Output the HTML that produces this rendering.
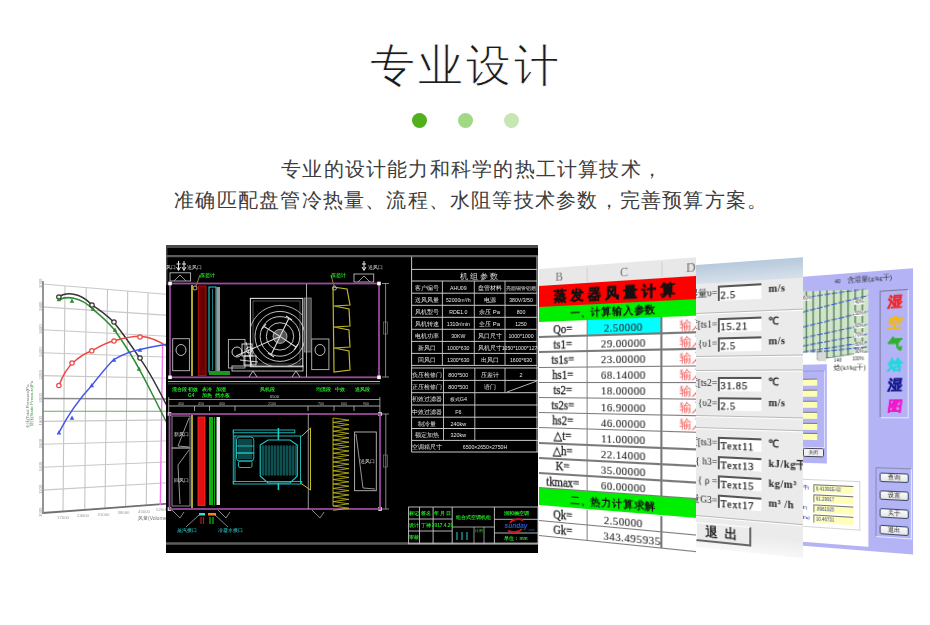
<!DOCTYPE html>
<html><head><meta charset="utf-8">
<style>
html,body{margin:0;padding:0;background:#fff;}
body{width:930px;height:625px;position:relative;overflow:hidden;font-family:"Liberation Sans",sans-serif;}
.abs{position:absolute;}
#title{position:absolute;left:370.1px;top:43px;white-space:nowrap;font-size:45px;line-height:45px;color:#1a1a1a;letter-spacing:2.9px;-webkit-text-stroke:0.9px #fff;}
.dot{position:absolute;top:113px;width:15px;height:15px;border-radius:50%;}
.sub{position:absolute;white-space:nowrap;font-size:20px;line-height:20px;color:#3c3c3c;letter-spacing:1.22px;}
.panel{position:absolute;left:0;top:0;transform-origin:0 0;overflow:visible;}
</style></head><body>
<div id="title">专业设计</div>
<div class="dot" style="left:411.5px;background:#51b11c"></div>
<div class="dot" style="left:457.5px;background:#a2d784"></div>
<div class="dot" style="left:503.5px;background:#c6e7b3"></div>
<div class="sub" style="left:281.1px;top:159px">专业的设计能力和科学的热工计算技术，</div>
<div class="sub" style="left:174.2px;top:189.9px">准确匹配盘管冷热量、流程、水阻等技术参数，完善预算方案。</div>

<div id="collage" class="abs" style="left:0;top:0;width:930px;height:625px;filter:blur(0.35px)">
<svg class="abs" style="left:0;top:0" width="930" height="625" viewBox="0 0 930 625">
<line x1="65" y1="285.9" x2="63" y2="511.5" stroke="#c4c4c4" stroke-width="1.1"/>
<line x1="86.2" y1="287.6" x2="84.8" y2="509.9" stroke="#c4c4c4" stroke-width="1.1"/>
<line x1="107.5" y1="289.4" x2="105" y2="508.4" stroke="#c4c4c4" stroke-width="1.1"/>
<line x1="127.7" y1="291.1" x2="125.6" y2="506.8" stroke="#c4c4c4" stroke-width="1.1"/>
<line x1="148" y1="292.8" x2="146.3" y2="505.3" stroke="#c4c4c4" stroke-width="1.1"/>
<line x1="42.5" y1="284.0" x2="172" y2="294.7" stroke="#c8c8c8" stroke-width="1.1"/>
<line x1="42.5" y1="306.9" x2="172" y2="315.6" stroke="#c8c8c8" stroke-width="1.1"/>
<line x1="42.5" y1="329.8" x2="172" y2="336.5" stroke="#c8c8c8" stroke-width="1.1"/>
<line x1="42.5" y1="352.7" x2="172" y2="357.3" stroke="#c8c8c8" stroke-width="1.1"/>
<line x1="42.5" y1="375.6" x2="172" y2="378.2" stroke="#c8c8c8" stroke-width="1.1"/>
<line x1="42.5" y1="398.5" x2="172" y2="399.1" stroke="#8a8a8a" stroke-width="1.5"/>
<line x1="42.5" y1="421.4" x2="172" y2="419.9" stroke="#c8c8c8" stroke-width="1.1"/>
<line x1="42.5" y1="444.3" x2="172" y2="440.8" stroke="#c8c8c8" stroke-width="1.1"/>
<line x1="42.5" y1="467.2" x2="172" y2="461.7" stroke="#c8c8c8" stroke-width="1.1"/>
<line x1="42.5" y1="490.1" x2="172" y2="482.5" stroke="#c8c8c8" stroke-width="1.1"/>
<line x1="42.5" y1="513.0" x2="172" y2="503.4" stroke="#707070" stroke-width="1.8"/>
<line x1="42.5" y1="411.3" x2="172" y2="411.3" stroke="#6aaa6a" stroke-width="1.1"/>
<line x1="43" y1="281" x2="43" y2="514" stroke="#8a8a8a" stroke-width="1.8"/>
<line x1="162.6" y1="345" x2="160.3" y2="505" stroke="#f070f0" stroke-width="1.3"/>
<path d="M58.9,297 C66,292 80,292 91.8,304.8 C100,310 108,316 114.2,322.7 C125,336 133,348 140,358.6 C150,372 158,388 168,408" fill="none" stroke="#333" stroke-width="1.5"/>
<path d="M58.9,300 C66,296 80,296 93,309.3 C100,315 108,322 114.2,329.5 C125,345 133,357 138.9,368.7 C148,385 155,400 168,425" fill="none" stroke="#2e8b2e" stroke-width="1.5"/>
<path d="M58.9,385.5 C63,375 67,368 72.7,363 C80,356 86,353 91.8,350.8 C100,346 108,342 114.2,340.7 C124,338 132,336 140,336.2 C150,337 158,340 168,347" fill="none" stroke="#ee4444" stroke-width="1.5"/>
<path d="M58.9,432.6 C68,415 80,398 91.8,385.5 C100,375 107,366 114.2,359.3 C124,354 132,351 140,349.6 C150,347 158,346 168,344" fill="none" stroke="#4455ee" stroke-width="1.5"/>
<circle cx="58.9" cy="297" r="2.2" fill="#fff" stroke="#333" stroke-width="1.2"/>
<path d="M56.6,301.3 L58.9,297.1 L61.2,301.3 Z" fill="#2e8b2e"/>
<path d="M69.7,302.8 L72.0,298.6 L74.3,302.8 Z" fill="#2e8b2e"/>
<circle cx="92" cy="305" r="2.2" fill="#fff" stroke="#333" stroke-width="1.2"/>
<path d="M90.7,310.8 L93.0,306.6 L95.3,310.8 Z" fill="#2e8b2e"/>
<circle cx="114" cy="322" r="2.2" fill="#fff" stroke="#333" stroke-width="1.2"/>
<path d="M112.7,331.8 L115.0,327.6 L117.3,331.8 Z" fill="#2e8b2e"/>
<circle cx="140" cy="358" r="2.2" fill="#fff" stroke="#333" stroke-width="1.2"/>
<path d="M136.7,370.8 L139.0,366.6 L141.3,370.8 Z" fill="#2e8b2e"/>
<circle cx="58.9" cy="385.5" r="2.2" fill="#fff" stroke="#ee4444" stroke-width="1.2"/>
<circle cx="72" cy="363" r="2.2" fill="#fff" stroke="#ee4444" stroke-width="1.2"/>
<circle cx="91.8" cy="350.8" r="2.2" fill="#fff" stroke="#ee4444" stroke-width="1.2"/>
<circle cx="114" cy="341" r="2.2" fill="#fff" stroke="#ee4444" stroke-width="1.2"/>
<circle cx="140" cy="337" r="2.2" fill="#fff" stroke="#ee4444" stroke-width="1.2"/>
<path d="M56.6,434.4 L58.9,430.2 L61.2,434.4 Z" fill="#4455ee"/>
<path d="M69.7,419.8 L72.0,415.6 L74.3,419.8 Z" fill="#4455ee"/>
<path d="M89.5,387.3 L91.8,383.1 L94.1,387.3 Z" fill="#4455ee"/>
<path d="M111.7,361.8 L114.0,357.6 L116.3,361.8 Z" fill="#4455ee"/>
<path d="M137.7,351.8 L140.0,347.6 L142.3,351.8 Z" fill="#4455ee"/>
<text transform="translate(41.8,288.0) rotate(-90)" font-size="4.2" fill="#999" font-family="Liberation Sans, sans-serif">3000</text>
<text transform="translate(41.8,310.9) rotate(-90)" font-size="4.2" fill="#999" font-family="Liberation Sans, sans-serif">2800</text>
<text transform="translate(41.8,333.8) rotate(-90)" font-size="4.2" fill="#999" font-family="Liberation Sans, sans-serif">2600</text>
<text transform="translate(41.8,356.7) rotate(-90)" font-size="4.2" fill="#999" font-family="Liberation Sans, sans-serif">2400</text>
<text transform="translate(41.8,379.6) rotate(-90)" font-size="4.2" fill="#999" font-family="Liberation Sans, sans-serif">2200</text>
<text transform="translate(41.8,402.5) rotate(-90)" font-size="4.2" fill="#999" font-family="Liberation Sans, sans-serif">2000</text>
<text transform="translate(41.8,425.4) rotate(-90)" font-size="4.2" fill="#999" font-family="Liberation Sans, sans-serif">1800</text>
<text transform="translate(41.8,448.3) rotate(-90)" font-size="4.2" fill="#999" font-family="Liberation Sans, sans-serif">1600</text>
<text transform="translate(41.8,471.2) rotate(-90)" font-size="4.2" fill="#999" font-family="Liberation Sans, sans-serif">1400</text>
<text transform="translate(41.8,494.1) rotate(-90)" font-size="4.2" fill="#999" font-family="Liberation Sans, sans-serif">1200</text>
<text transform="translate(41.8,517.0) rotate(-90)" font-size="4.2" fill="#999" font-family="Liberation Sans, sans-serif">1000</text>
<text transform="translate(28.5,428) rotate(-90)" font-size="4.3" fill="#777" font-family="Liberation Sans, sans-serif">全压(Total Pressure)Pa</text>
<text transform="translate(32.5,426) rotate(-90)" font-size="4.3" fill="#4a9a4a" font-family="Liberation Sans, sans-serif">静压(Static Pressure)Pa</text>
<text x="63" y="518.5" font-size="4.3" fill="#999" text-anchor="middle" font-family="Liberation Sans, sans-serif">17000</text>
<text x="83" y="517.0" font-size="4.3" fill="#999" text-anchor="middle" font-family="Liberation Sans, sans-serif">24000</text>
<text x="103.5" y="515.5" font-size="4.3" fill="#999" text-anchor="middle" font-family="Liberation Sans, sans-serif">31000</text>
<text x="123.5" y="514.0" font-size="4.3" fill="#999" text-anchor="middle" font-family="Liberation Sans, sans-serif">38000</text>
<text x="144" y="512.5" font-size="4.3" fill="#999" text-anchor="middle" font-family="Liberation Sans, sans-serif">45000</text>
<text x="162" y="511.2" font-size="4.3" fill="#999" text-anchor="middle" font-family="Liberation Sans, sans-serif">52000</text>
<text x="138" y="520" font-size="5" fill="#777" font-family="Liberation Sans, sans-serif">风量(Volume)m³/h</text>
<rect x="166" y="245" width="372" height="308" fill="#000"/>
<rect x="166" y="245" width="372" height="3" fill="#4a4a4a"/>
<line x1="166" y1="256.1" x2="538" y2="256.1" stroke="#5c5c5c" stroke-width="2.2"/>
<line x1="166" y1="543.5" x2="538" y2="543.5" stroke="#5e5e5e" stroke-width="2.4"/>
<line x1="166.8" y1="248" x2="166.8" y2="285" stroke="#666" stroke-width="1"/>
<svg x="166" y="255" width="20" height="20" overflow="hidden"><text x="-5.5" y="13.5" font-size="4.6" fill="#ddd" font-family="Liberation Sans, sans-serif">回风口</text></svg>
<text x="186.5" y="268.5" font-size="4.6" fill="#ddd" text-anchor="start" font-family="Liberation Sans, sans-serif" >送风口</text>
<text x="367.5" y="268.5" font-size="4.6" fill="#ddd" text-anchor="start" font-family="Liberation Sans, sans-serif" >送风口</text>
<circle cx="195" cy="288" r="2" fill="none" stroke="#ddd" stroke-width="0.8"/><circle cx="334.5" cy="288" r="2" fill="none" stroke="#ddd" stroke-width="0.8"/>
<path d="M178.5,261 L178.5,270 M176.5,267 L178.5,270.5 L180.5,267 M176.5,264 L180.5,264 M184,261 L184,270 M182,267 L184,270.5 L186,267 M182,264 L186,264 M364,261 L364,270 M362,267 L364,270.5 L366,267 M362,264 L366,264" stroke="#e8e8e8" stroke-width="1" fill="none"/>
<rect x="170" y="272.8" width="20.6" height="8.2" fill="none" stroke="#bbb" stroke-width="0.9"/>
<path d="M174,281 L180,275 L186,281" fill="none" stroke="#bbb" stroke-width="0.8"/>
<rect x="354" y="274" width="19.7" height="8" fill="none" stroke="#bbb" stroke-width="0.9"/>
<path d="M358,282 L364,276 L370,282" fill="none" stroke="#bbb" stroke-width="0.8"/>
<text x="200" y="277" font-size="4.6" fill="#22dd22" text-anchor="start" font-family="Liberation Sans, sans-serif" font-weight="bold">压差计</text>
<text x="331" y="277" font-size="4.6" fill="#22dd22" text-anchor="start" font-family="Liberation Sans, sans-serif" font-weight="bold">压差计</text>
<path d="M200,275 L196,286" stroke="#cc3" stroke-width="0.7" fill="none"/>
<path d="M331,275 L334,286" stroke="#cc3" stroke-width="0.7" fill="none"/>
<rect x="170" y="283.5" width="209" height="93.8" fill="none" stroke="#9a4a9a" stroke-width="1.8"/>
<rect x="168.2" y="281.7" width="3.6" height="3.6" fill="#fff"/>
<rect x="377.2" y="281.7" width="3.6" height="3.6" fill="#fff"/>
<rect x="168.2" y="375.5" width="3.6" height="3.6" fill="#fff"/>
<rect x="377.2" y="375.5" width="3.6" height="3.6" fill="#fff"/>
<rect x="167.7" y="412.2" width="3.6" height="3.6" fill="#fff"/>
<rect x="378.2" y="412.2" width="3.6" height="3.6" fill="#fff"/>
<rect x="167.7" y="507.2" width="3.6" height="3.6" fill="#fff"/>
<rect x="378.2" y="507.2" width="3.6" height="3.6" fill="#fff"/>
<line x1="192" y1="285" x2="192" y2="376" stroke="#d8d030" stroke-width="1.6"/>
<rect x="198.3" y="286" width="7.7" height="89.6" fill="#6a0000" stroke="#c01010" stroke-width="0.9"/>
<rect x="209" y="287" width="7" height="85" fill="none" stroke="#22c8c8" stroke-width="1.1"/>
<line x1="212.5" y1="289" x2="212.5" y2="370" stroke="#22a0a0" stroke-width="0.8"/>
<rect x="216.5" y="287" width="3.5" height="85" fill="#9a9a9a"/>
<rect x="209" y="371" width="21" height="4" fill="#1a9a1a"/>
<rect x="172.7" y="338.7" width="16.7" height="32" fill="none" stroke="#bbb" stroke-width="0.9"/>
<ellipse cx="181" cy="350" rx="5" ry="5.5" fill="none" stroke="#ccc" stroke-width="0.9"/>
<rect x="311.7" y="339" width="17.2" height="30.6" fill="none" stroke="#bbb" stroke-width="0.9"/>
<ellipse cx="320" cy="350" rx="5" ry="5.5" fill="none" stroke="#ccc" stroke-width="0.9"/>
<rect x="228.4" y="339.4" width="16.6" height="28.6" fill="none" stroke="#bbb" stroke-width="0.9"/>
<rect x="250.4" y="298.4" width="52.4" height="68.3" fill="none" stroke="#ddd" stroke-width="1.1"/>
<rect x="253" y="301" width="47" height="63" fill="none" stroke="#888" stroke-width="0.6"/>
<defs><clipPath id="fh"><rect x="251" y="299" width="51" height="67"/></clipPath></defs>
<circle cx="280" cy="336.4" r="31" fill="none" stroke="#bbb" stroke-width="0.9" clip-path="url(#fh)"/>
<circle cx="280" cy="336.4" r="25" fill="none" stroke="#d8d8d8" stroke-width="0.9"/>
<circle cx="280" cy="336.4" r="19.8" fill="none" stroke="#d8d8d8" stroke-width="0.9"/>
<circle cx="280" cy="336.4" r="13.7" fill="none" stroke="#d8d8d8" stroke-width="0.9"/>
<circle cx="280" cy="336.4" r="7" fill="#555" stroke="#ccc" stroke-width="0.8"/>
<path d="M280,336.4 L289,318 M280,336.4 L264,326.5 M280,336.4 L271,355 M280,336.4 L296,347 M280,336.4 L236,356" stroke="#ddd" stroke-width="1.1"/>
<path d="M286,316 L292,320 M262,329 L266,324 M268,353 L274,357 M294,350 L298,344" stroke="#ddd" stroke-width="1.2"/>
<g fill="none" stroke="#e8e8e8" stroke-width="0.9"><circle cx="237" cy="352" r="5"/><rect x="242" y="344" width="10" height="12"/><rect x="244" y="356" width="12" height="9"/><circle cx="249" cy="350" r="3"/><path d="M240,360 L258,362 M246,342 L252,366"/></g>
<rect x="232" y="366" width="71" height="5" fill="none" stroke="#ccc" stroke-width="0.9"/>
<path d="M249,377 L253,371 L257,377 M292,377 L296,371 L300,377" stroke="#ccc" stroke-width="0.9" fill="none"/>
<rect x="304.3" y="298" width="6.9" height="54" fill="#444" stroke="#999" stroke-width="0.7"/>
<line x1="306.5" y1="284" x2="306.5" y2="377" stroke="#bbb" stroke-width="0.9"/>
<path d="M333,287 L347,289 L350,305 L334,306 L349,309 L350,326 L334,327 L349,330 L350,347 L334,348 L349,351 L350,370 L334,372 L333,287" fill="none" stroke="#c0b828" stroke-width="1.2"/>
<line x1="385.6" y1="283" x2="385.6" y2="377" stroke="#aaa" stroke-width="0.8"/>
<line x1="382" y1="283.5" x2="389" y2="283.5" stroke="#aaa" stroke-width="0.8"/><line x1="382" y1="377" x2="389" y2="377" stroke="#aaa" stroke-width="0.8"/>
<rect x="383.5" y="322" width="4" height="12" fill="none" stroke="#888" stroke-width="0.6"/>
<line x1="168" y1="381.5" x2="380" y2="381.5" stroke="#c8c8c8" stroke-width="0.9"/>
<line x1="168" y1="383.8" x2="380" y2="383.8" stroke="#666" stroke-width="0.7"/>
<text x="172" y="390.5" font-size="4.7" fill="#22dd22" text-anchor="start" font-family="Liberation Sans, sans-serif" font-weight="bold">混合段</text>
<text x="188" y="390.5" font-size="4.7" fill="#22dd22" text-anchor="start" font-family="Liberation Sans, sans-serif" font-weight="bold">初效</text>
<text x="202" y="390.5" font-size="4.7" fill="#22dd22" text-anchor="start" font-family="Liberation Sans, sans-serif" font-weight="bold">表冷</text>
<text x="216" y="390.5" font-size="4.7" fill="#22dd22" text-anchor="start" font-family="Liberation Sans, sans-serif" font-weight="bold">加湿</text>
<text x="260" y="390.5" font-size="4.7" fill="#22dd22" text-anchor="start" font-family="Liberation Sans, sans-serif" font-weight="bold">风机段</text>
<text x="316" y="390.5" font-size="4.7" fill="#22dd22" text-anchor="start" font-family="Liberation Sans, sans-serif" font-weight="bold">均流段</text>
<text x="335" y="390.5" font-size="4.7" fill="#22dd22" text-anchor="start" font-family="Liberation Sans, sans-serif" font-weight="bold">中效</text>
<text x="355" y="390.5" font-size="4.7" fill="#22dd22" text-anchor="start" font-family="Liberation Sans, sans-serif" font-weight="bold">送风段</text>
<text x="188" y="397" font-size="4.7" fill="#22dd22" text-anchor="start" font-family="Liberation Sans, sans-serif" font-weight="bold">G4</text>
<text x="202" y="397" font-size="4.7" fill="#22dd22" text-anchor="start" font-family="Liberation Sans, sans-serif" font-weight="bold">加热</text>
<text x="215" y="397" font-size="4.7" fill="#22dd22" text-anchor="start" font-family="Liberation Sans, sans-serif" font-weight="bold">挡水板</text>
<text x="270" y="398" font-size="4" fill="#ccc" text-anchor="start" font-family="Liberation Sans, sans-serif" >6500</text>
<line x1="168.7" y1="399.5" x2="379.9" y2="399.5" stroke="#bbb" stroke-width="0.8"/>
<line x1="168.7" y1="397" x2="168.7" y2="413" stroke="#bbb" stroke-width="0.8"/>
<line x1="379.9" y1="397" x2="379.9" y2="413" stroke="#bbb" stroke-width="0.8"/>
<line x1="168.7" y1="406" x2="379.9" y2="406" stroke="#bbb" stroke-width="0.9"/>
<line x1="194.5" y1="406" x2="194.5" y2="411" stroke="#bbb" stroke-width="0.8"/>
<line x1="209.5" y1="406" x2="209.5" y2="411" stroke="#bbb" stroke-width="0.8"/>
<line x1="235" y1="406" x2="235" y2="411" stroke="#bbb" stroke-width="0.8"/>
<line x1="308" y1="406" x2="308" y2="411" stroke="#bbb" stroke-width="0.8"/>
<line x1="334" y1="406" x2="334" y2="411" stroke="#bbb" stroke-width="0.8"/>
<line x1="354" y1="406" x2="354" y2="411" stroke="#bbb" stroke-width="0.8"/>
<text x="181" y="405" font-size="3.6" fill="#bbb" text-anchor="middle" font-family="Liberation Sans, sans-serif" >400</text>
<text x="201" y="405" font-size="3.6" fill="#bbb" text-anchor="middle" font-family="Liberation Sans, sans-serif" >450</text>
<text x="222" y="405" font-size="3.6" fill="#bbb" text-anchor="middle" font-family="Liberation Sans, sans-serif" >400</text>
<text x="272" y="405" font-size="3.6" fill="#bbb" text-anchor="middle" font-family="Liberation Sans, sans-serif" >2100</text>
<text x="321" y="405" font-size="3.6" fill="#bbb" text-anchor="middle" font-family="Liberation Sans, sans-serif" >700</text>
<text x="344" y="405" font-size="3.6" fill="#bbb" text-anchor="middle" font-family="Liberation Sans, sans-serif" >600</text>
<text x="366" y="405" font-size="3.6" fill="#bbb" text-anchor="middle" font-family="Liberation Sans, sans-serif" >900</text>
<rect x="169.5" y="414" width="210.5" height="95" fill="none" stroke="#9a4a9a" stroke-width="1.8"/>
<rect x="172" y="416" width="18" height="32" fill="none" stroke="#aaa" stroke-width="0.8"/>
<rect x="172" y="448" width="18" height="58" fill="none" stroke="#aaa" stroke-width="0.8"/>
<path d="M189,418 L178,446 L189,447 M189,450 L178,465 L180,504" stroke="#bbb" stroke-width="0.8" fill="none"/>
<text x="174" y="436" font-size="4.5" fill="#ddd" text-anchor="start" font-family="Liberation Sans, sans-serif" >新风口</text>
<text x="174" y="482" font-size="4.5" fill="#ddd" text-anchor="start" font-family="Liberation Sans, sans-serif" >回风口</text>
<line x1="192" y1="415" x2="192" y2="508" stroke="#d8d030" stroke-width="1.6"/>
<rect x="198" y="417" width="7" height="88.6" fill="#e01010" stroke="#ff3030" stroke-width="0.8"/>
<rect x="209" y="417" width="4" height="88" fill="#10b010"/>
<line x1="214.5" y1="417" x2="214.5" y2="505" stroke="#10c010" stroke-width="0.9"/>
<rect x="216.5" y="417" width="3.5" height="88" fill="#e8e8e8"/>
<g fill="none" stroke="#22c8c8" stroke-width="0.9">
<rect x="233.3" y="430" width="61.5" height="2.8"/>
<line x1="233.3" y1="436" x2="301.8" y2="436"/>
<rect x="233.3" y="481.5" width="68.5" height="2.5"/>
<line x1="233.3" y1="430" x2="233.3" y2="484"/><line x1="235" y1="436" x2="235" y2="482"/>
<line x1="300.5" y1="436" x2="300.5" y2="484"/>
<rect x="236.5" y="437" width="17.3" height="24" rx="3"/>
<rect x="238.5" y="461" width="13.5" height="6.5" rx="1.5"/>
<line x1="236.5" y1="446" x2="253.8" y2="446"/><line x1="236.5" y1="453" x2="253.8" y2="453" stroke-width="1.4"/>
<path d="M260.2,445 L268,440 L290,440 L297.3,445 L297.3,476 L290,483 L268,483 L260.2,476 Z" stroke-width="1.1"/>
<line x1="278.4" y1="428" x2="278.4" y2="440" stroke-width="1.6"/><line x1="278.4" y1="483" x2="278.4" y2="490" stroke-width="1.6"/>
</g>
<line x1="263" y1="445" x2="263" y2="476" stroke="#22c8c8" stroke-width="0.55"/>
<line x1="266" y1="445" x2="266" y2="476" stroke="#22c8c8" stroke-width="0.55"/>
<line x1="269" y1="445" x2="269" y2="476" stroke="#22c8c8" stroke-width="0.55"/>
<line x1="272" y1="445" x2="272" y2="476" stroke="#22c8c8" stroke-width="0.55"/>
<line x1="275" y1="445" x2="275" y2="476" stroke="#22c8c8" stroke-width="0.55"/>
<line x1="278" y1="445" x2="278" y2="476" stroke="#22c8c8" stroke-width="0.55"/>
<line x1="281" y1="445" x2="281" y2="476" stroke="#22c8c8" stroke-width="0.55"/>
<line x1="284" y1="445" x2="284" y2="476" stroke="#22c8c8" stroke-width="0.55"/>
<line x1="287" y1="445" x2="287" y2="476" stroke="#22c8c8" stroke-width="0.55"/>
<line x1="290" y1="445" x2="290" y2="476" stroke="#22c8c8" stroke-width="0.55"/>
<line x1="293" y1="445" x2="293" y2="476" stroke="#22c8c8" stroke-width="0.55"/>
<line x1="296" y1="445" x2="296" y2="476" stroke="#22c8c8" stroke-width="0.55"/>
<rect x="238" y="439" width="14" height="20" fill="#22c8c8" opacity="0.35"/>
<rect x="261" y="446" width="35" height="29" fill="#22c8c8" opacity="0.18"/>
<path d="M301.8,436 L310.5,428 L310.5,490 L301.8,484" fill="none" stroke="#c8c020" stroke-width="1"/>
<line x1="308.3" y1="414" x2="308.3" y2="509" stroke="#bbb" stroke-width="0.8"/>
<path d="M333,418 L349,420.2 L333,422.4 L349,424.6 L333,426.8 L349,429.0 L333,431.2 L349,433.4 L333,435.6 L349,437.8 L333,440.0 L349,442.2 L333,444.4 L349,446.6 L333,448.8 L349,451.0 L333,453.2 L349,455.4 L333,457.6 L349,459.8 L333,462.0 L349,464.2 L333,466.4 L349,468.6 L333,470.8 L349,473.0 L333,475.2 L349,477.4 L333,479.6 L349,481.8 L333,484.0 L349,486.2 L333,488.4 L349,490.6 L333,492.8 L349,495.0 L333,497.2 L349,499.4 L333,501.6 L349,503.8 L333,506.0 L349,508.2 L333,510.4" fill="none" stroke="#c8c020" stroke-width="0.8"/>
<line x1="333" y1="418" x2="333" y2="506" stroke="#c8c020" stroke-width="0.9"/>
<rect x="354.6" y="432" width="21.7" height="58.7" fill="none" stroke="#bbb" stroke-width="0.9"/>
<path d="M356,434 L363,488 L375,489" fill="none" stroke="#bbb" stroke-width="0.8"/>
<text x="360" y="463" font-size="4.5" fill="#ddd" text-anchor="start" font-family="Liberation Sans, sans-serif" >送风口</text>
<line x1="385.8" y1="414" x2="385.8" y2="509" stroke="#aaa" stroke-width="0.8"/>
<line x1="382" y1="414" x2="389" y2="414" stroke="#aaa" stroke-width="0.8"/><line x1="382" y1="509" x2="389" y2="509" stroke="#aaa" stroke-width="0.8"/>
<rect x="383.5" y="455" width="4" height="12" fill="none" stroke="#888" stroke-width="0.6"/>
<path d="M172,510 L180,518 L184,512 M218,510 L226,518 L230,512 M312,510 L320,518 L324,512" fill="none" stroke="#aaa" stroke-width="0.8"/>
<rect x="199" y="513" width="6" height="2.5" fill="#30e0e0"/>
<rect x="208" y="513" width="8" height="2.5" fill="#ff8020"/>
<path d="M201,517 L201,524 M203.5,517 L203.5,524" stroke="#d01010" stroke-width="1.2"/>
<path d="M210,517 L210,524 M213,517 L213,524" stroke="#10c010" stroke-width="1.2"/>
<path d="M199,515 L186,527 M215,515 L228,527" stroke="#bbb" stroke-width="0.7"/>
<text x="177" y="532" font-size="5" fill="#30e0e0" text-anchor="start" font-family="Liberation Sans, sans-serif" >蒸汽接口</text>
<text x="218" y="532" font-size="5" fill="#30e0e0" text-anchor="start" font-family="Liberation Sans, sans-serif" >冷凝水接口</text>
<line x1="411.6" y1="256.6" x2="411.6" y2="452" stroke="#c8c8c8" stroke-width="1"/>
<line x1="537" y1="256.6" x2="537" y2="452" stroke="#c8c8c8" stroke-width="1"/>
<line x1="411.6" y1="269.4" x2="537" y2="269.4" stroke="#c8c8c8" stroke-width="1"/>
<line x1="411.6" y1="281" x2="537" y2="281" stroke="#c8c8c8" stroke-width="1"/>
<line x1="411.6" y1="293.2" x2="537" y2="293.2" stroke="#c8c8c8" stroke-width="1"/>
<line x1="411.6" y1="305.3" x2="537" y2="305.3" stroke="#c8c8c8" stroke-width="1"/>
<line x1="411.6" y1="317.3" x2="537" y2="317.3" stroke="#c8c8c8" stroke-width="1"/>
<line x1="411.6" y1="329.3" x2="537" y2="329.3" stroke="#c8c8c8" stroke-width="1"/>
<line x1="411.6" y1="341.4" x2="537" y2="341.4" stroke="#c8c8c8" stroke-width="1"/>
<line x1="411.6" y1="353.4" x2="537" y2="353.4" stroke="#c8c8c8" stroke-width="1"/>
<line x1="411.6" y1="365.4" x2="537" y2="365.4" stroke="#c8c8c8" stroke-width="1"/>
<line x1="442.4" y1="281" x2="442.4" y2="365.4" stroke="#c8c8c8" stroke-width="0.9"/>
<line x1="474.3" y1="281" x2="474.3" y2="365.4" stroke="#c8c8c8" stroke-width="0.9"/>
<line x1="505" y1="281" x2="505" y2="365.4" stroke="#c8c8c8" stroke-width="0.9"/>
<text x="479" y="278.5" font-size="7.5" fill="#ddd" text-anchor="middle" font-family="Liberation Sans, sans-serif" >机  组  参  数</text>
<text x="427" y="289.6" font-size="5.9" fill="#e8e8e8" text-anchor="middle" font-family="Liberation Sans, sans-serif" >客户编号</text>
<text x="458.3" y="289.6" font-size="5.2" fill="#e8e8e8" text-anchor="middle" font-family="Liberation Sans, sans-serif" >AHU09</text>
<text x="489.6" y="289.6" font-size="5.9" fill="#e8e8e8" text-anchor="middle" font-family="Liberation Sans, sans-serif" >盘管材料</text>
<text x="521" y="289.6" font-size="5.2" fill="#e8e8e8" text-anchor="middle" font-family="Liberation Sans, sans-serif" >亮面铜管铝翅</text>
<text x="427" y="301.8" font-size="5.9" fill="#e8e8e8" text-anchor="middle" font-family="Liberation Sans, sans-serif" >送风风量</text>
<text x="458.3" y="301.8" font-size="5.2" fill="#e8e8e8" text-anchor="middle" font-family="Liberation Sans, sans-serif" >52000m³/h</text>
<text x="489.6" y="301.8" font-size="5.9" fill="#e8e8e8" text-anchor="middle" font-family="Liberation Sans, sans-serif" >电源</text>
<text x="521" y="301.8" font-size="5.2" fill="#e8e8e8" text-anchor="middle" font-family="Liberation Sans, sans-serif" >380V/3/50</text>
<text x="427" y="313.90000000000003" font-size="5.9" fill="#e8e8e8" text-anchor="middle" font-family="Liberation Sans, sans-serif" >风机型号</text>
<text x="458.3" y="313.90000000000003" font-size="5.2" fill="#e8e8e8" text-anchor="middle" font-family="Liberation Sans, sans-serif" >RDE1.0</text>
<text x="489.6" y="313.90000000000003" font-size="5.9" fill="#e8e8e8" text-anchor="middle" font-family="Liberation Sans, sans-serif" >余压 Pa</text>
<text x="521" y="313.90000000000003" font-size="5.2" fill="#e8e8e8" text-anchor="middle" font-family="Liberation Sans, sans-serif" >800</text>
<text x="427" y="325.90000000000003" font-size="5.9" fill="#e8e8e8" text-anchor="middle" font-family="Liberation Sans, sans-serif" >风机转速</text>
<text x="458.3" y="325.90000000000003" font-size="5.2" fill="#e8e8e8" text-anchor="middle" font-family="Liberation Sans, sans-serif" >1310r/min</text>
<text x="489.6" y="325.90000000000003" font-size="5.9" fill="#e8e8e8" text-anchor="middle" font-family="Liberation Sans, sans-serif" >全压 Pa</text>
<text x="521" y="325.90000000000003" font-size="5.2" fill="#e8e8e8" text-anchor="middle" font-family="Liberation Sans, sans-serif" >1250</text>
<text x="427" y="337.90000000000003" font-size="5.9" fill="#e8e8e8" text-anchor="middle" font-family="Liberation Sans, sans-serif" >电机功率</text>
<text x="458.3" y="337.90000000000003" font-size="5.2" fill="#e8e8e8" text-anchor="middle" font-family="Liberation Sans, sans-serif" >30KW</text>
<text x="489.6" y="337.90000000000003" font-size="5.9" fill="#e8e8e8" text-anchor="middle" font-family="Liberation Sans, sans-serif" >风口尺寸</text>
<text x="521" y="337.90000000000003" font-size="5.2" fill="#e8e8e8" text-anchor="middle" font-family="Liberation Sans, sans-serif" >1000*1000</text>
<text x="427" y="350.0" font-size="5.9" fill="#e8e8e8" text-anchor="middle" font-family="Liberation Sans, sans-serif" >新风口</text>
<text x="458.3" y="350.0" font-size="5.2" fill="#e8e8e8" text-anchor="middle" font-family="Liberation Sans, sans-serif" >1000*630</text>
<text x="489.6" y="350.0" font-size="5.9" fill="#e8e8e8" text-anchor="middle" font-family="Liberation Sans, sans-serif" >风机尺寸</text>
<text x="521" y="350.0" font-size="5.2" fill="#e8e8e8" text-anchor="middle" font-family="Liberation Sans, sans-serif" >1050*1000*1270</text>
<text x="427" y="362.0" font-size="5.9" fill="#e8e8e8" text-anchor="middle" font-family="Liberation Sans, sans-serif" >回风口</text>
<text x="458.3" y="362.0" font-size="5.2" fill="#e8e8e8" text-anchor="middle" font-family="Liberation Sans, sans-serif" >1300*630</text>
<text x="489.6" y="362.0" font-size="5.9" fill="#e8e8e8" text-anchor="middle" font-family="Liberation Sans, sans-serif" >出风口</text>
<text x="521" y="362.0" font-size="5.2" fill="#e8e8e8" text-anchor="middle" font-family="Liberation Sans, sans-serif" >1600*630</text>
<line x1="411.6" y1="368" x2="538" y2="368" stroke="#c8c8c8" stroke-width="1"/>
<line x1="411.6" y1="380.4" x2="538" y2="380.4" stroke="#c8c8c8" stroke-width="1"/>
<line x1="411.6" y1="392.7" x2="538" y2="392.7" stroke="#c8c8c8" stroke-width="1"/>
<line x1="411.6" y1="405" x2="538" y2="405" stroke="#c8c8c8" stroke-width="1"/>
<line x1="411.6" y1="417.2" x2="538" y2="417.2" stroke="#c8c8c8" stroke-width="1"/>
<line x1="411.6" y1="428.5" x2="538" y2="428.5" stroke="#c8c8c8" stroke-width="1"/>
<line x1="411.6" y1="440.4" x2="538" y2="440.4" stroke="#c8c8c8" stroke-width="1"/>
<line x1="411.6" y1="452" x2="538" y2="452" stroke="#c8c8c8" stroke-width="1"/>
<line x1="443.5" y1="368" x2="443.5" y2="440.4" stroke="#c8c8c8" stroke-width="0.9"/>
<line x1="474.8" y1="368" x2="474.8" y2="440.4" stroke="#c8c8c8" stroke-width="0.9"/>
<line x1="505" y1="368" x2="505" y2="392.7" stroke="#c8c8c8" stroke-width="0.9"/>
<line x1="507" y1="392" x2="537" y2="381" stroke="#c8c8c8" stroke-width="0.9"/>
<text x="427" y="376.6" font-size="5.9" fill="#e8e8e8" text-anchor="middle" font-family="Liberation Sans, sans-serif" >负压检修门</text>
<text x="458.3" y="376.6" font-size="5.4" fill="#e8e8e8" text-anchor="middle" font-family="Liberation Sans, sans-serif" >800*500</text>
<text x="489.6" y="376.6" font-size="5.9" fill="#e8e8e8" text-anchor="middle" font-family="Liberation Sans, sans-serif" >压差计</text>
<text x="521" y="376.6" font-size="5.4" fill="#e8e8e8" text-anchor="middle" font-family="Liberation Sans, sans-serif" >2</text>
<text x="427" y="389.0" font-size="5.9" fill="#e8e8e8" text-anchor="middle" font-family="Liberation Sans, sans-serif" >正压检修门</text>
<text x="458.3" y="389.0" font-size="5.4" fill="#e8e8e8" text-anchor="middle" font-family="Liberation Sans, sans-serif" >800*500</text>
<text x="489.6" y="389.0" font-size="5.9" fill="#e8e8e8" text-anchor="middle" font-family="Liberation Sans, sans-serif" >语门</text>
<text x="427" y="401.3" font-size="5.9" fill="#e8e8e8" text-anchor="middle" font-family="Liberation Sans, sans-serif" >初效过滤器</text>
<text x="458.3" y="401.3" font-size="5.4" fill="#e8e8e8" text-anchor="middle" font-family="Liberation Sans, sans-serif" >板式G4</text>
<text x="427" y="413.6" font-size="5.9" fill="#e8e8e8" text-anchor="middle" font-family="Liberation Sans, sans-serif" >中效过滤器</text>
<text x="458.3" y="413.6" font-size="5.4" fill="#e8e8e8" text-anchor="middle" font-family="Liberation Sans, sans-serif" >F6</text>
<text x="427" y="425.8" font-size="5.9" fill="#e8e8e8" text-anchor="middle" font-family="Liberation Sans, sans-serif" >制冷量</text>
<text x="458.3" y="425.8" font-size="5.4" fill="#e8e8e8" text-anchor="middle" font-family="Liberation Sans, sans-serif" >240kw</text>
<text x="427" y="437.1" font-size="5.9" fill="#e8e8e8" text-anchor="middle" font-family="Liberation Sans, sans-serif" >额定加热</text>
<text x="458.3" y="437.1" font-size="5.4" fill="#e8e8e8" text-anchor="middle" font-family="Liberation Sans, sans-serif" >320kw</text>
<text x="427" y="448.8" font-size="5.9" fill="#e8e8e8" text-anchor="middle" font-family="Liberation Sans, sans-serif" >空调箱尺寸</text>
<text x="485" y="448.8" font-size="5.2" fill="#e8e8e8" text-anchor="middle" font-family="Liberation Sans, sans-serif" >6500×2650×2750H</text>
<rect x="408.6" y="507" width="129.4" height="36.8" fill="none" stroke="#c8c8c8" stroke-width="0.9"/>
<line x1="419.5" y1="507" x2="419.5" y2="543.8" stroke="#c8c8c8" stroke-width="0.9"/>
<line x1="433.1" y1="507" x2="433.1" y2="543.8" stroke="#c8c8c8" stroke-width="0.9"/>
<line x1="452.2" y1="507" x2="452.2" y2="543.8" stroke="#c8c8c8" stroke-width="0.9"/>
<line x1="494.4" y1="507" x2="494.4" y2="543.8" stroke="#c8c8c8" stroke-width="0.9"/>
<line x1="408.6" y1="519" x2="452.2" y2="519" stroke="#c8c8c8" stroke-width="0.9"/>
<line x1="408.6" y1="531" x2="452.2" y2="531" stroke="#c8c8c8" stroke-width="0.9"/>
<line x1="494.4" y1="519.3" x2="538" y2="519.3" stroke="#c8c8c8" stroke-width="0.9"/>
<line x1="494.4" y1="533" x2="538" y2="533" stroke="#c8c8c8" stroke-width="0.9"/>
<line x1="452.2" y1="527" x2="494.4" y2="527" stroke="#c8c8c8" stroke-width="0.8"/>
<line x1="474" y1="527" x2="474" y2="543.8" stroke="#c8c8c8" stroke-width="0.7"/>
<line x1="484" y1="527" x2="484" y2="543.8" stroke="#c8c8c8" stroke-width="0.7"/>
<text x="414" y="515" font-size="4.8" fill="#22dd22" text-anchor="middle" font-family="Liberation Sans, sans-serif" font-weight="bold">标记</text>
<text x="426" y="515" font-size="4.8" fill="#22dd22" text-anchor="middle" font-family="Liberation Sans, sans-serif" font-weight="bold">签名</text>
<text x="442.5" y="515" font-size="4.8" fill="#22dd22" text-anchor="middle" font-family="Liberation Sans, sans-serif" font-weight="bold">年 月 日</text>
<text x="414" y="527" font-size="4.8" fill="#22dd22" text-anchor="middle" font-family="Liberation Sans, sans-serif" font-weight="bold">设计</text>
<text x="426" y="527" font-size="4.8" fill="#22dd22" text-anchor="middle" font-family="Liberation Sans, sans-serif" font-weight="bold">丁神</text>
<text x="442.5" y="527" font-size="4.8" fill="#22dd22" text-anchor="middle" font-family="Liberation Sans, sans-serif" font-weight="bold">2017.4.20</text>
<text x="414" y="539" font-size="4.8" fill="#22dd22" text-anchor="middle" font-family="Liberation Sans, sans-serif" font-weight="bold">审核</text>
<text x="473" y="519" font-size="4.6" fill="#22dd22" text-anchor="middle" font-family="Liberation Sans, sans-serif" font-weight="bold">组合式空调机组</text>
<text x="479" y="532" font-size="4" fill="#22dd22" text-anchor="middle" font-family="Liberation Sans, sans-serif" >比例</text>
<path d="M457,532 L457,540 M462,532 L462,540 M467,532 L467,540" stroke="#30d0d0" stroke-width="1"/>
<text x="516" y="515" font-size="5" fill="#22dd22" text-anchor="middle" font-family="Liberation Sans, sans-serif" font-weight="bold">润和德空调</text>
<text x="516" y="527.8" font-size="6.5" fill="#2a5ad0" text-anchor="middle" font-style="italic" font-weight="bold" font-family="Liberation Sans, sans-serif">sunday</text>
<path d="M510,523 C512,519 520,518 523,520.5 M508,530.5 C512,533 519,532.5 522,529" stroke="#e01020" stroke-width="1.8" fill="none"/>
<text x="528" y="531" font-size="3" fill="#2a5ad0" font-family="Liberation Sans, sans-serif">.com</text>
<text x="516" y="540" font-size="4.6" fill="#22dd22" text-anchor="middle" font-family="Liberation Sans, sans-serif" font-weight="bold">单位：mm</text>
</svg>
<div class="panel" style="width:157px;height:272px;overflow:hidden;transform:matrix3d(0.57875321,-0.23120154,0,-0.00060523965,0,1,0,0,0,0,1,0,539,269,0,1);">
<div class="abs" style="left:0;top:0;width:230px;height:270px;background:#fff"></div>
<div class="abs" style="left:0;top:0;width:230px;height:16.5px;background:#e8e8e8"></div>
<div class="abs" style="left:18px;top:2px;font:12px/14px 'Liberation Serif',serif;color:#707070">B</div>
<div class="abs" style="left:85px;top:2px;font:12px/14px 'Liberation Serif',serif;color:#707070">C</div>
<div class="abs" style="left:148px;top:2px;font:12px/14px 'Liberation Serif',serif;color:#707070">D</div>
<div class="abs" style="left:51.4px;top:2px;width:1px;height:14px;background:#d0d0d0"></div>
<div class="abs" style="left:124.6px;top:2px;width:1px;height:14px;background:#d0d0d0"></div>
<div class="abs" style="left:0;top:16.5px;width:230px;height:21.3px;background:#ff0000"></div>
<div class="abs" style="left:0;top:37.8px;width:230px;height:15.2px;background:#00ee00"></div>
<div class="abs" style="left:9px;top:18.5px;width:140px;text-align:center;font:bold 14px 'Liberation Serif',serif;letter-spacing:4px;color:#111;line-height:20px;-webkit-text-stroke:0.4px #111">蒸发器风量计算</div>
<div class="abs" style="left:22px;top:38px;width:110px;text-align:center;font:bold 10px 'Liberation Serif',serif;color:#111;line-height:15px;letter-spacing:0.8px">一、计算输入参数</div>
<div class="abs" style="left:51.4px;top:53px;width:73.2px;height:15.1px;background:#00ffff"></div>
<div class="abs" style="left:0;top:67.30px;width:230px;height:1.6px;background:#7a7a7a"></div>
<div class="abs" style="left:0;top:53.50px;width:51.4px;text-align:center;font:11.5px 'Liberation Serif',serif;color:#1e1e1e;line-height:15px;-webkit-text-stroke:0.3px #1e1e1e">Qo=</div>
<div class="abs" style="left:51.4px;top:54.00px;width:73.2px;text-align:center;font:11.5px 'Liberation Serif',serif;color:#333;letter-spacing:0.4px;line-height:15px;font-size:11px;-webkit-text-stroke:0.15px #333">2.50000</div>
<div class="abs" style="left:142px;top:53.50px;font:11px 'Liberation Serif',serif;color:#f25050;line-height:15px;white-space:nowrap">输入</div>
<div class="abs" style="left:0;top:82.40px;width:230px;height:1.6px;background:#7a7a7a"></div>
<div class="abs" style="left:0;top:68.60px;width:51.4px;text-align:center;font:11.5px 'Liberation Serif',serif;color:#1e1e1e;line-height:15px;-webkit-text-stroke:0.3px #1e1e1e">ts1=</div>
<div class="abs" style="left:51.4px;top:69.10px;width:73.2px;text-align:center;font:11.5px 'Liberation Serif',serif;color:#333;letter-spacing:0.4px;line-height:15px;font-size:11px;-webkit-text-stroke:0.15px #333">29.00000</div>
<div class="abs" style="left:142px;top:68.60px;font:11px 'Liberation Serif',serif;color:#f25050;line-height:15px;white-space:nowrap">输入</div>
<div class="abs" style="left:0;top:97.50px;width:230px;height:1.6px;background:#7a7a7a"></div>
<div class="abs" style="left:0;top:83.70px;width:51.4px;text-align:center;font:11.5px 'Liberation Serif',serif;color:#1e1e1e;line-height:15px;-webkit-text-stroke:0.3px #1e1e1e">ts1s=</div>
<div class="abs" style="left:51.4px;top:84.20px;width:73.2px;text-align:center;font:11.5px 'Liberation Serif',serif;color:#333;letter-spacing:0.4px;line-height:15px;font-size:11px;-webkit-text-stroke:0.15px #333">23.00000</div>
<div class="abs" style="left:142px;top:83.70px;font:11px 'Liberation Serif',serif;color:#f25050;line-height:15px;white-space:nowrap">输入</div>
<div class="abs" style="left:0;top:112.60px;width:230px;height:1.6px;background:#7a7a7a"></div>
<div class="abs" style="left:0;top:98.80px;width:51.4px;text-align:center;font:11.5px 'Liberation Serif',serif;color:#1e1e1e;line-height:15px;-webkit-text-stroke:0.3px #1e1e1e">hs1=</div>
<div class="abs" style="left:51.4px;top:99.30px;width:73.2px;text-align:center;font:11.5px 'Liberation Serif',serif;color:#333;letter-spacing:0.4px;line-height:15px;font-size:11px;-webkit-text-stroke:0.15px #333">68.14000</div>
<div class="abs" style="left:142px;top:98.80px;font:11px 'Liberation Serif',serif;color:#f25050;line-height:15px;white-space:nowrap">输入</div>
<div class="abs" style="left:0;top:127.70px;width:230px;height:1.6px;background:#7a7a7a"></div>
<div class="abs" style="left:0;top:113.90px;width:51.4px;text-align:center;font:11.5px 'Liberation Serif',serif;color:#1e1e1e;line-height:15px;-webkit-text-stroke:0.3px #1e1e1e">ts2=</div>
<div class="abs" style="left:51.4px;top:114.40px;width:73.2px;text-align:center;font:11.5px 'Liberation Serif',serif;color:#333;letter-spacing:0.4px;line-height:15px;font-size:11px;-webkit-text-stroke:0.15px #333">18.00000</div>
<div class="abs" style="left:142px;top:113.90px;font:11px 'Liberation Serif',serif;color:#f25050;line-height:15px;white-space:nowrap">输入</div>
<div class="abs" style="left:0;top:142.80px;width:230px;height:1.6px;background:#7a7a7a"></div>
<div class="abs" style="left:0;top:129.00px;width:51.4px;text-align:center;font:11.5px 'Liberation Serif',serif;color:#1e1e1e;line-height:15px;-webkit-text-stroke:0.3px #1e1e1e">ts2s=</div>
<div class="abs" style="left:51.4px;top:129.50px;width:73.2px;text-align:center;font:11.5px 'Liberation Serif',serif;color:#333;letter-spacing:0.4px;line-height:15px;font-size:11px;-webkit-text-stroke:0.15px #333">16.90000</div>
<div class="abs" style="left:142px;top:129.00px;font:11px 'Liberation Serif',serif;color:#f25050;line-height:15px;white-space:nowrap">输入</div>
<div class="abs" style="left:0;top:157.90px;width:230px;height:1.6px;background:#7a7a7a"></div>
<div class="abs" style="left:0;top:144.10px;width:51.4px;text-align:center;font:11.5px 'Liberation Serif',serif;color:#1e1e1e;line-height:15px;-webkit-text-stroke:0.3px #1e1e1e">hs2=</div>
<div class="abs" style="left:51.4px;top:144.60px;width:73.2px;text-align:center;font:11.5px 'Liberation Serif',serif;color:#333;letter-spacing:0.4px;line-height:15px;font-size:11px;-webkit-text-stroke:0.15px #333">46.00000</div>
<div class="abs" style="left:142px;top:144.10px;font:11px 'Liberation Serif',serif;color:#f25050;line-height:15px;white-space:nowrap">输入</div>
<div class="abs" style="left:0;top:173.00px;width:230px;height:1.6px;background:#7a7a7a"></div>
<div class="abs" style="left:0;top:159.20px;width:51.4px;text-align:center;font:11.5px 'Liberation Serif',serif;color:#1e1e1e;line-height:15px;-webkit-text-stroke:0.3px #1e1e1e">△t=</div>
<div class="abs" style="left:51.4px;top:159.70px;width:73.2px;text-align:center;font:11.5px 'Liberation Serif',serif;color:#333;letter-spacing:0.4px;line-height:15px;font-size:11px;-webkit-text-stroke:0.15px #333">11.00000</div>
<div class="abs" style="left:0;top:188.10px;width:230px;height:1.6px;background:#7a7a7a"></div>
<div class="abs" style="left:0;top:174.30px;width:51.4px;text-align:center;font:11.5px 'Liberation Serif',serif;color:#1e1e1e;line-height:15px;-webkit-text-stroke:0.3px #1e1e1e">△h=</div>
<div class="abs" style="left:51.4px;top:174.80px;width:73.2px;text-align:center;font:11.5px 'Liberation Serif',serif;color:#333;letter-spacing:0.4px;line-height:15px;font-size:11px;-webkit-text-stroke:0.15px #333">22.14000</div>
<div class="abs" style="left:0;top:203.20px;width:230px;height:1.6px;background:#7a7a7a"></div>
<div class="abs" style="left:0;top:189.40px;width:51.4px;text-align:center;font:11.5px 'Liberation Serif',serif;color:#1e1e1e;line-height:15px;-webkit-text-stroke:0.3px #1e1e1e">K=</div>
<div class="abs" style="left:51.4px;top:189.90px;width:73.2px;text-align:center;font:11.5px 'Liberation Serif',serif;color:#333;letter-spacing:0.4px;line-height:15px;font-size:11px;-webkit-text-stroke:0.15px #333">35.00000</div>
<div class="abs" style="left:0;top:218.30px;width:230px;height:1.6px;background:#7a7a7a"></div>
<div class="abs" style="left:0;top:204.50px;width:51.4px;text-align:center;font:11.5px 'Liberation Serif',serif;color:#1e1e1e;line-height:15px;-webkit-text-stroke:0.3px #1e1e1e">tkmax=</div>
<div class="abs" style="left:51.4px;top:205.00px;width:73.2px;text-align:center;font:11.5px 'Liberation Serif',serif;color:#333;letter-spacing:0.4px;line-height:15px;font-size:11px;-webkit-text-stroke:0.15px #333">60.00000</div>
<div class="abs" style="left:0;top:219.10px;width:230px;height:17.4px;background:#00ee00"></div>
<div class="abs" style="left:22px;top:220.60px;width:110px;text-align:center;font:bold 10px 'Liberation Serif',serif;color:#111;line-height:15px;letter-spacing:0.8px">二、热力计算求解</div>
<div class="abs" style="left:0;top:250.80px;width:230px;height:1.6px;background:#7a7a7a"></div>
<div class="abs" style="left:0;top:237.00px;width:51.4px;text-align:center;font:11.5px 'Liberation Serif',serif;color:#1e1e1e;line-height:15px;-webkit-text-stroke:0.3px #1e1e1e">Qk=</div>
<div class="abs" style="left:51.4px;top:237.50px;width:73.2px;text-align:center;font:11.5px 'Liberation Serif',serif;color:#333;letter-spacing:0.4px;line-height:15px;font-size:11px;-webkit-text-stroke:0.15px #333">2.50000</div>
<div class="abs" style="left:0;top:265.90px;width:230px;height:1.6px;background:#7a7a7a"></div>
<div class="abs" style="left:0;top:252.10px;width:51.4px;text-align:center;font:11.5px 'Liberation Serif',serif;color:#1e1e1e;line-height:15px;-webkit-text-stroke:0.3px #1e1e1e">Gk=</div>
<div class="abs" style="left:51.4px;top:252.60px;width:73.2px;text-align:right;font:11.5px 'Liberation Serif',serif;color:#333;letter-spacing:0.4px;line-height:15px;font-size:11px;-webkit-text-stroke:0.15px #333">343.495935</div>
<div class="abs" style="left:50.8px;top:53px;width:1.5px;height:166.1px;background:#7a7a7a"></div>
<div class="abs" style="left:50.8px;top:236.5px;width:1.5px;height:30.2px;background:#7a7a7a"></div>
<div class="abs" style="left:124.0px;top:53px;width:1.5px;height:166.1px;background:#7a7a7a"></div>
<div class="abs" style="left:124.0px;top:236.5px;width:1.5px;height:30.2px;background:#7a7a7a"></div>
</div>
<div class="panel" style="width:109.5px;height:269px;overflow:hidden;transform:matrix3d(0.5019224,-0.22321537,0,-0.00054583846,0,1,0,0,0,0,1,0,803,276.8,0,1);background:#b3b3f5">
<div class="abs" style="left:0;top:76px;width:67px;height:189px;background:#fff"></div>
<svg class="abs" style="left:0;top:0" width="70" height="90" viewBox="0 0 70 90">
<defs><pattern id="hp" width="2.4" height="2.4" patternUnits="userSpaceOnUse"><rect width="2.4" height="2.4" fill="#c4dcbc"/><path d="M0,2.4 L2.4,0" stroke="#eaf5e6" stroke-width="0.8"/></pattern></defs>
<clipPath id="pc"><path d="M0,14.4 L67,16.7 L67,77 L15,83.2 L15,76 L0,76 Z"/></clipPath><path d="M0,14.4 L67,16.7 L67,77 L15,83.2 L15,76 L0,76 Z" fill="url(#hp)"/><g clip-path="url(#pc)">
<line x1="3.5" y1="15" x2="3.5" y2="83" stroke="#557f55" stroke-width="1.4"/>
<line x1="10.7" y1="15" x2="10.7" y2="83" stroke="#557f55" stroke-width="1.4"/>
<line x1="17.9" y1="15" x2="17.9" y2="83" stroke="#557f55" stroke-width="1.4"/>
<line x1="25.1" y1="15" x2="25.1" y2="83" stroke="#557f55" stroke-width="1.4"/>
<line x1="32.3" y1="15" x2="32.3" y2="83" stroke="#557f55" stroke-width="1.4"/>
<line x1="39.5" y1="15" x2="39.5" y2="83" stroke="#557f55" stroke-width="1.4"/>
<line x1="46.7" y1="15" x2="46.7" y2="83" stroke="#557f55" stroke-width="1.4"/>
<line x1="53.9" y1="15" x2="53.9" y2="83" stroke="#557f55" stroke-width="1.4"/>
<line x1="61.1" y1="15" x2="61.1" y2="83" stroke="#557f55" stroke-width="1.4"/>
<line x1="0" y1="35.2" x2="67" y2="22.8" stroke="#3f5fc8" stroke-width="1.1" stroke-dasharray="6 1.5"/>
<line x1="0" y1="50.2" x2="67" y2="38" stroke="#3f5fc8" stroke-width="1.1" stroke-dasharray="6 1.5"/>
<line x1="0" y1="61.2" x2="67" y2="50.4" stroke="#3f5fc8" stroke-width="1.1" stroke-dasharray="6 1.5"/>
<line x1="0" y1="69.2" x2="67" y2="59.9" stroke="#3f5fc8" stroke-width="1.1" stroke-dasharray="6 1.5"/>
<line x1="0" y1="75.2" x2="67" y2="67.5" stroke="#3f5fc8" stroke-width="1.1" stroke-dasharray="6 1.5"/>
<line x1="7" y1="76.2" x2="67" y2="72.3" stroke="#3f5fc8" stroke-width="1.1" stroke-dasharray="6 1.5"/>
<line x1="15" y1="83.2" x2="67" y2="77" stroke="#3f5fc8" stroke-width="1.1" stroke-dasharray="6 1.5"/>
<line x1="0" y1="21" x2="67" y2="16" stroke="#3f5fc8" stroke-width="1.1" stroke-dasharray="6 1.5"/>
</g><path d="M15,76 L15,83.2 L67,77" fill="none" stroke="#5d8a5d" stroke-width="0.6"/>
</svg>
<div class="abs" style="left:53px;top:26px;font:4.5px/5px 'Liberation Sans',sans-serif;background:#fff;color:#333;padding:0 0.5px">40%</div>
<div class="abs" style="left:53px;top:37px;font:4.5px/5px 'Liberation Sans',sans-serif;background:#fff;color:#333;padding:0 0.5px">50%</div>
<div class="abs" style="left:53px;top:49px;font:4.5px/5px 'Liberation Sans',sans-serif;background:#fff;color:#333;padding:0 0.5px">60%</div>
<div class="abs" style="left:53px;top:57.5px;font:4.5px/5px 'Liberation Sans',sans-serif;background:#fff;color:#333;padding:0 0.5px">70%</div>
<div class="abs" style="left:53px;top:67px;font:4.5px/5px 'Liberation Sans',sans-serif;background:#fff;color:#333;padding:0 0.5px">80%</div>
<div class="abs" style="left:53px;top:73.5px;font:4.5px/5px 'Liberation Sans',sans-serif;background:#fff;color:#333;padding:0 0.5px">90%</div>
<div class="abs" style="left:50.5px;top:80.5px;font:4.5px/5px 'Liberation Sans',sans-serif;background:#fff;color:#333;padding:0 0.5px">100%</div>
<div class="abs" style="left:0;top:18.5px;font:4.5px/5px 'Liberation Sans',sans-serif;background:#fff;color:#333">60%</div>
<div class="abs" style="left:33px;top:4px;font:5.5px/6px 'Liberation Sans',sans-serif;color:#222">40</div>
<div class="abs" style="left:46px;top:3px;font:6.5px/7px 'Liberation Serif',serif;color:#222;white-space:nowrap">含湿量(g/kg干)</div>
<div class="abs" style="left:15.8px;top:76px;width:8px;height:9.2px;background:#d8d8d8"></div>
<div class="abs" style="left:32px;top:81px;font:5.5px/6px 'Liberation Serif',serif;color:#222">140</div>
<div class="abs" style="left:32px;top:88px;font:6.5px/7px 'Liberation Serif',serif;color:#222;white-space:nowrap">焓(kJ/kg干)</div>
<div class="abs" style="left:-4px;top:87.5px;width:29px;height:98px;background:#b3b3f5"></div>
<div class="abs" style="left:-4px;top:94px;width:25px;height:75px;border:1px solid #9a9ad0;border-right-color:#e4e4ff;border-bottom-color:#e4e4ff"></div>
<div class="abs" style="left:0;top:102.4px;width:14.7px;height:7px;background:#ffffb4;box-sizing:border-box;border-top:1px solid #777"></div>
<div class="abs" style="left:0;top:112.8px;width:14.7px;height:7px;background:#ffffb4;box-sizing:border-box;border-top:1px solid #777"></div>
<div class="abs" style="left:0;top:124.1px;width:14.7px;height:7px;background:#ffffb4;box-sizing:border-box;border-top:1px solid #777"></div>
<div class="abs" style="left:0;top:134.5px;width:14.7px;height:7px;background:#ffffb4;box-sizing:border-box;border-top:1px solid #777"></div>
<div class="abs" style="left:0;top:145.7px;width:14.7px;height:7px;background:#ffffb4;box-sizing:border-box;border-top:1px solid #777"></div>
<div class="abs" style="left:0;top:156.2px;width:14.7px;height:7px;background:#ffffb4;box-sizing:border-box;border-top:1px solid #777"></div>
<div class="abs" style="left:0;top:170.9px;width:22px;height:9.5px;box-sizing:border-box;background:#f2f2f2;border:1px solid #445;border-radius:1.5px;font:5px/8px 'Liberation Serif',serif;text-align:center;color:#222">关闭</div>
<div class="abs" style="left:-1.1px;top:201.6px;width:60.2px;height:48.1px;box-sizing:border-box;background:#fff;border:1px solid #d4d4d4"></div>
<div class="abs" style="left:10.8px;top:206.8px;width:41px;height:8px;box-sizing:border-box;background:#ffffb8;border-top:1.3px solid #707070;border-left:1.3px solid #707070;font:4.5px/7px 'Liberation Sans',sans-serif;color:#2a3aa0;padding-left:2px;white-space:nowrap">6.41391E-02</div>
<div class="abs" style="left:-2px;top:206.8px;font:bold 5px/7px 'Liberation Serif',serif;color:#3344bb">(干)</div>
<div class="abs" style="left:10.8px;top:216.7px;width:41px;height:8px;box-sizing:border-box;background:#ffffb8;border-top:1.3px solid #707070;border-left:1.3px solid #707070;font:4.5px/7px 'Liberation Sans',sans-serif;color:#2a3aa0;padding-left:2px;white-space:nowrap">61.29917</div>
<div class="abs" style="left:10.8px;top:226.6px;width:41px;height:8px;box-sizing:border-box;background:#ffffb8;border-top:1.3px solid #707070;border-left:1.3px solid #707070;font:4.5px/7px 'Liberation Sans',sans-serif;color:#2a3aa0;padding-left:2px;white-space:nowrap">.8961925</div>
<div class="abs" style="left:-2px;top:226.6px;font:bold 5px/7px 'Liberation Serif',serif;color:#3344bb">(F)</div>
<div class="abs" style="left:10.8px;top:236.5px;width:41px;height:8px;box-sizing:border-box;background:#ffffb8;border-top:1.3px solid #707070;border-left:1.3px solid #707070;font:4.5px/7px 'Liberation Sans',sans-serif;color:#2a3aa0;padding-left:2px;white-space:nowrap">10.46731</div>
<div class="abs" style="left:-2px;top:236.5px;font:bold 5px/7px 'Liberation Serif',serif;color:#3344bb">(Pa)</div>
<div class="abs" style="left:78.4px;top:18.8px;width:27.5px;height:122.5px;box-sizing:border-box;border:1.5px solid #7a7a9a;border-right-color:#e6e6ff;border-bottom-color:#e6e6ff;background:#b3b3f5"></div>
<div class="abs" style="left:85.5px;top:24.2px;font:bold 14px/14px 'Liberation Serif',serif;color:#f02828;-webkit-text-stroke:0.7px #f02828;transform:skewX(-8deg) scaleY(0.95)">湿</div>
<div class="abs" style="left:85.5px;top:44.0px;font:bold 14px/14px 'Liberation Serif',serif;color:#f0b818;-webkit-text-stroke:0.7px #f0b818;transform:skewX(-8deg) scaleY(0.95)">空</div>
<div class="abs" style="left:85.5px;top:63.8px;font:bold 14px/14px 'Liberation Serif',serif;color:#30b030;-webkit-text-stroke:0.7px #30b030;transform:skewX(-8deg) scaleY(0.95)">气</div>
<div class="abs" style="left:85.5px;top:83.6px;font:bold 14px/14px 'Liberation Serif',serif;color:#20d8e0;-webkit-text-stroke:0.7px #20d8e0;transform:skewX(-8deg) scaleY(0.95)">焓</div>
<div class="abs" style="left:85.5px;top:103.4px;font:bold 14px/14px 'Liberation Serif',serif;color:#181890;-webkit-text-stroke:0.7px #181890;transform:skewX(-8deg) scaleY(0.95)">湿</div>
<div class="abs" style="left:85.5px;top:123.2px;font:bold 14px/14px 'Liberation Serif',serif;color:#f018c8;-webkit-text-stroke:0.7px #f018c8;transform:skewX(-8deg) scaleY(0.95)">图</div>
<div class="abs" style="left:74.1px;top:188px;width:35.3px;height:67.4px;box-sizing:border-box;border:1px solid #8a8ab0;border-right-color:#e6e6ff;border-bottom-color:#e6e6ff"></div>
<div class="abs" style="left:78px;top:192.5px;width:28.4px;height:9px;box-sizing:border-box;background:linear-gradient(#fbfbfb,#e6e6e6);border:1px solid #3a4a6a;border-radius:2px;font:5.5px/7px 'Liberation Serif',serif;text-align:center;color:#222">查询</div>
<div class="abs" style="left:78px;top:209.5px;width:28.4px;height:9px;box-sizing:border-box;background:linear-gradient(#fbfbfb,#e6e6e6);border:1px solid #3a4a6a;border-radius:2px;font:5.5px/7px 'Liberation Serif',serif;text-align:center;color:#222">设置</div>
<div class="abs" style="left:78px;top:226.5px;width:28.4px;height:9px;box-sizing:border-box;background:linear-gradient(#fbfbfb,#e6e6e6);border:1px solid #3a4a6a;border-radius:2px;font:5.5px/7px 'Liberation Serif',serif;text-align:center;color:#222">关于</div>
<div class="abs" style="left:78px;top:243.1px;width:28.4px;height:9px;box-sizing:border-box;background:linear-gradient(#fbfbfb,#e6e6e6);border:1px solid #3a4a6a;border-radius:2px;font:5.5px/7px 'Liberation Serif',serif;text-align:center;color:#222">退出</div>
</div>
<div class="panel" style="width:106.5px;height:282px;overflow:hidden;transform:matrix3d(0.5268424,-0.2234601,0,-0.00058960448,0,1,0,0,0,0,1,0,696,265,0,1);background:linear-gradient(#ebebeb 0,#ebebeb 94%,#f8f8f8 100%)">
<div class="abs" style="left:0;top:0;width:106.5px;height:19px;background:linear-gradient(#b6c9dc,#d6e0ea)"></div>
<div class="abs" style="left:22.8px;top:22px;width:44px;height:15px;background:#fff;box-sizing:border-box;border-top:2px solid #555;border-left:2px solid #555;font:10.5px 'Liberation Serif',serif;color:#1a1a1a;line-height:15px;padding-left:1px;letter-spacing:0.9px;-webkit-text-stroke:0.25px #1a1a1a">2.5</div>
<div class="abs" style="left:-40px;width:62.3px;text-align:right;top:21px;font:10px 'Liberation Serif',serif;color:#222;line-height:15px;white-space:nowrap">湿量υ=</div>
<div class="abs" style="left:74px;top:20px;font:bold 10px 'Liberation Serif',serif;color:#222;line-height:15px;white-space:nowrap;letter-spacing:0.5px">m/s</div>
<div class="abs" style="left:22.8px;top:53.5px;width:44px;height:14.5px;background:#fff;box-sizing:border-box;border-top:2px solid #555;border-left:2px solid #555;font:10.5px 'Liberation Serif',serif;color:#1a1a1a;line-height:14.5px;padding-left:1px;letter-spacing:0.9px;-webkit-text-stroke:0.25px #1a1a1a">15.21</div>
<div class="abs" style="left:-40px;width:62.3px;text-align:right;top:52.5px;font:10px 'Liberation Serif',serif;color:#222;line-height:14.5px;white-space:nowrap">温度[ts1=</div>
<div class="abs" style="left:74px;top:51.5px;font:bold 10px 'Liberation Serif',serif;color:#222;line-height:14.5px;white-space:nowrap;letter-spacing:0.5px">℃</div>
<div class="abs" style="left:22.8px;top:72.7px;width:44px;height:14.3px;background:#fff;box-sizing:border-box;border-top:2px solid #555;border-left:2px solid #555;font:10.5px 'Liberation Serif',serif;color:#1a1a1a;line-height:14.3px;padding-left:1px;letter-spacing:0.9px;-webkit-text-stroke:0.25px #1a1a1a">2.5</div>
<div class="abs" style="left:-40px;width:62.3px;text-align:right;top:71.7px;font:10px 'Liberation Serif',serif;color:#222;line-height:14.3px;white-space:nowrap">{υ1=</div>
<div class="abs" style="left:74px;top:70.7px;font:bold 10px 'Liberation Serif',serif;color:#222;line-height:14.3px;white-space:nowrap;letter-spacing:0.5px">m/s</div>
<div class="abs" style="left:22.8px;top:112.3px;width:44px;height:13.5px;background:#fff;box-sizing:border-box;border-top:2px solid #555;border-left:2px solid #555;font:10.5px 'Liberation Serif',serif;color:#1a1a1a;line-height:13.5px;padding-left:1px;letter-spacing:0.9px;-webkit-text-stroke:0.25px #1a1a1a">31.85</div>
<div class="abs" style="left:-40px;width:62.3px;text-align:right;top:111.3px;font:10px 'Liberation Serif',serif;color:#222;line-height:13.5px;white-space:nowrap">温度[ts2=</div>
<div class="abs" style="left:74px;top:110.3px;font:bold 10px 'Liberation Serif',serif;color:#222;line-height:13.5px;white-space:nowrap;letter-spacing:0.5px">℃</div>
<div class="abs" style="left:22.8px;top:131.5px;width:44px;height:13.5px;background:#fff;box-sizing:border-box;border-top:2px solid #555;border-left:2px solid #555;font:10.5px 'Liberation Serif',serif;color:#1a1a1a;line-height:13.5px;padding-left:1px;letter-spacing:0.9px;-webkit-text-stroke:0.25px #1a1a1a">2.5</div>
<div class="abs" style="left:-40px;width:62.3px;text-align:right;top:130.5px;font:10px 'Liberation Serif',serif;color:#222;line-height:13.5px;white-space:nowrap">{υ2=</div>
<div class="abs" style="left:74px;top:129.5px;font:bold 10px 'Liberation Serif',serif;color:#222;line-height:13.5px;white-space:nowrap;letter-spacing:0.5px">m/s</div>
<div class="abs" style="left:22.8px;top:170.8px;width:44px;height:13px;background:#fff;box-sizing:border-box;border-top:2px solid #555;border-left:2px solid #555;font:10.5px 'Liberation Serif',serif;color:#1a1a1a;line-height:13px;padding-left:1px;letter-spacing:0.9px;-webkit-text-stroke:0.25px #1a1a1a">Text11</div>
<div class="abs" style="left:-40px;width:62.3px;text-align:right;top:169.8px;font:10px 'Liberation Serif',serif;color:#222;line-height:13px;white-space:nowrap">温度[ts3=</div>
<div class="abs" style="left:74px;top:168.8px;font:bold 10px 'Liberation Serif',serif;color:#222;line-height:13px;white-space:nowrap;letter-spacing:0.5px">℃</div>
<div class="abs" style="left:22.8px;top:190px;width:44px;height:13px;background:#fff;box-sizing:border-box;border-top:2px solid #555;border-left:2px solid #555;font:10.5px 'Liberation Serif',serif;color:#1a1a1a;line-height:13px;padding-left:1px;letter-spacing:0.9px;-webkit-text-stroke:0.25px #1a1a1a">Text13</div>
<div class="abs" style="left:-40px;width:62.3px;text-align:right;top:189px;font:10px 'Liberation Serif',serif;color:#222;line-height:13px;white-space:nowrap">{ h3=</div>
<div class="abs" style="left:74px;top:188px;font:bold 10px 'Liberation Serif',serif;color:#222;line-height:13px;white-space:nowrap;letter-spacing:0.5px">kJ/kg干</div>
<div class="abs" style="left:22.8px;top:209px;width:44px;height:13px;background:#fff;box-sizing:border-box;border-top:2px solid #555;border-left:2px solid #555;font:10.5px 'Liberation Serif',serif;color:#1a1a1a;line-height:13px;padding-left:1px;letter-spacing:0.9px;-webkit-text-stroke:0.25px #1a1a1a">Text15</div>
<div class="abs" style="left:-40px;width:62.3px;text-align:right;top:208px;font:10px 'Liberation Serif',serif;color:#222;line-height:13px;white-space:nowrap">{ ρ =</div>
<div class="abs" style="left:74px;top:207px;font:bold 10px 'Liberation Serif',serif;color:#222;line-height:13px;white-space:nowrap;letter-spacing:0.5px">kg/m³</div>
<div class="abs" style="left:22.8px;top:228.4px;width:44px;height:13px;background:#fff;box-sizing:border-box;border-top:2px solid #555;border-left:2px solid #555;font:10.5px 'Liberation Serif',serif;color:#1a1a1a;line-height:13px;padding-left:1px;letter-spacing:0.9px;-webkit-text-stroke:0.25px #1a1a1a">Text17</div>
<div class="abs" style="left:-40px;width:62.3px;text-align:right;top:227.4px;font:10px 'Liberation Serif',serif;color:#222;line-height:13px;white-space:nowrap">风量G3=</div>
<div class="abs" style="left:74px;top:226.4px;font:bold 10px 'Liberation Serif',serif;color:#222;line-height:13px;white-space:nowrap;letter-spacing:0.5px">m³ /h</div>
<div class="abs" style="left:0;top:47.6px;width:106.5px;height:1px;background:#b8b8b8;border-bottom:1px solid #fff"></div>
<div class="abs" style="left:0;top:90.7px;width:106.5px;height:1px;background:#b8b8b8;border-bottom:1px solid #fff"></div>
<div class="abs" style="left:0;top:105px;width:106.5px;height:1px;background:#b8b8b8;border-bottom:1px solid #fff"></div>
<div class="abs" style="left:0;top:150.4px;width:106.5px;height:1px;background:#b8b8b8;border-bottom:1px solid #fff"></div>
<div class="abs" style="left:0;top:161.9px;width:106.5px;height:1px;background:#b8b8b8;border-bottom:1px solid #fff"></div>
<div class="abs" style="left:0;top:250px;width:106.5px;height:1px;background:#b8b8b8;border-bottom:1px solid #fff"></div>
<div class="abs" style="left:0.4px;top:257.3px;width:56.4px;height:18.5px;box-sizing:border-box;background:#ebebeb;border:1px solid #fff;border-right:2px solid #666;border-bottom:2px solid #666;font:bold 13px 'Liberation Serif',serif;color:#222;text-align:center;line-height:16px;letter-spacing:7px;padding-left:4px">退出</div>
</div>
</div></body></html>
